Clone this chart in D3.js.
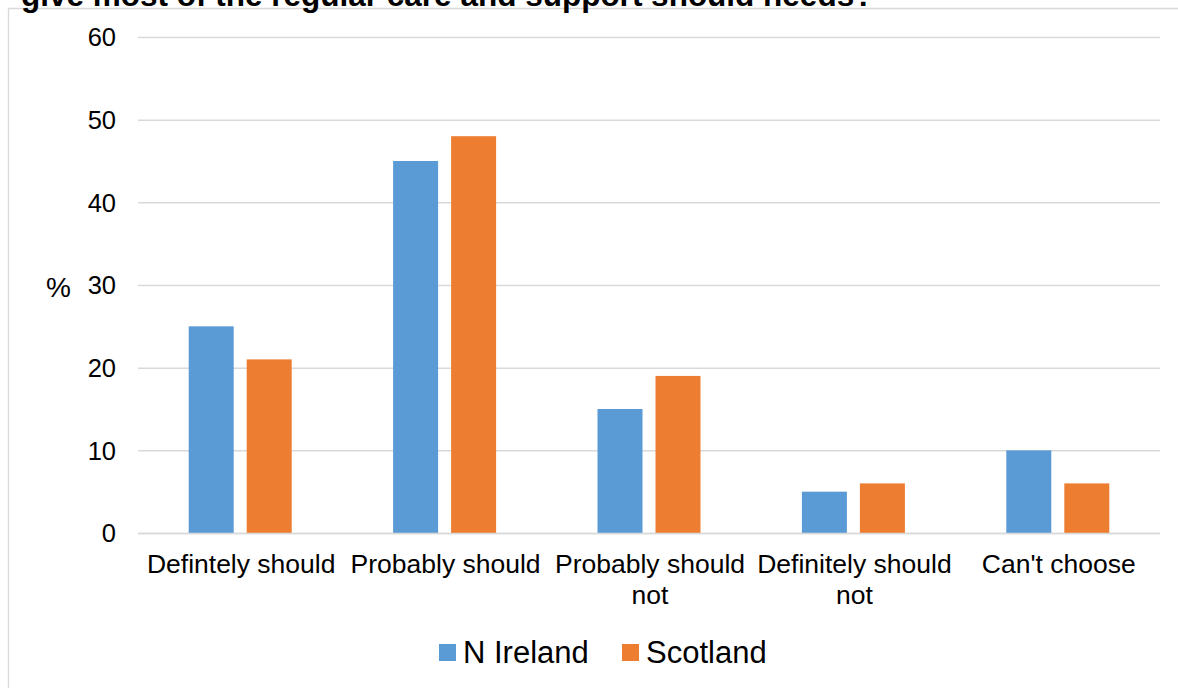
<!DOCTYPE html>
<html><head><meta charset="utf-8">
<script src="https://cdn.jsdelivr.net/npm/d3@7"></script>
<style>
html,body{margin:0;padding:0;background:#fff;}
svg{display:block;font-family:"Liberation Sans",Arial,sans-serif;}
</style></head>
<body>
<svg id="chart" width="1178" height="688"></svg>
<script>
const titleText = "give most of the regular care and support should needs?";
const categories = [["Defintely should"], ["Probably should"], ["Probably should", "not"], ["Definitely should", "not"], ["Can't choose"]];
const seriesNames = ["N Ireland", "Scotland"];
const nIreland = [25, 45, 15, 5, 10];
const scotland = [21, 48, 19, 6, 6];
const yTicks = [0, 10, 20, 30, 40, 50, 60];
const colors = ["#5B9BD5", "#ED7D31"];

const svg = d3.select("#chart");
const W = 1178, H = 688;
const m = {left: 138, right: 1160, top: 37, bottom: 533};

// outer chart border (left + top visible)
svg.append("path").attr("d", `M8.5,${H}V8.5H${W}`).attr("fill", "none").attr("stroke", "#d9d9d9").attr("stroke-width", 1.3);

// title (clipped at the top edge, as in the reference)
svg.append("text").attr("x", 21).attr("y", 5.5).attr("font-size", 31.5).attr("font-weight", "bold").attr("fill", "#000").text(titleText);

const x = d3.scaleBand().domain(d3.range(categories.length)).range([m.left, m.right]).paddingInner(0).paddingOuter(0);
const y = d3.scaleLinear().domain([0, 60]).range([m.bottom, m.top]);

const grid = svg.append("g");
grid.selectAll("line").data(yTicks).join("line")
  .attr("x1", m.left).attr("x2", m.right)
  .attr("y1", d => y(d) + 0.5).attr("y2", d => y(d) + 0.5)
  .attr("stroke", "#d9d9d9").attr("stroke-width", 1.5);

const yAxis = d3.axisLeft(y).tickValues(yTicks).tickSize(0).tickPadding(0);
const ga = svg.append("g").attr("transform", "translate(116,0)").call(yAxis);
ga.select(".domain").remove();
ga.selectAll("text").attr("font-size", 25.5).attr("fill", "#000").attr("font-family", "Liberation Sans, Arial, sans-serif").attr("dy", "0.35em");

svg.append("text").attr("x", 46).attr("y", 297).attr("font-size", 28).attr("fill", "#000").text("%");

const barW = 45, gap = 13;
const data = [nIreland, scotland];
data.forEach((vals, si) => {
  svg.append("g").selectAll("rect").data(vals).join("rect")
    .attr("x", (d, i) => x(i) + x.bandwidth() / 2 + (si === 0 ? -(gap / 2 + barW) : gap / 2))
    .attr("width", barW)
    .attr("y", d => y(d))
    .attr("height", d => y(0) - y(d))
    .attr("fill", colors[si]);
});

// baseline
svg.append("line").attr("x1", m.left).attr("x2", m.right).attr("y1", y(0) + 0.5).attr("y2", y(0) + 0.5).attr("stroke", "#d9d9d9").attr("stroke-width", 1.5);

// category labels
const cl = svg.append("g");
categories.forEach((lines, i) => {
  const t = cl.append("text").attr("text-anchor", "middle").attr("font-size", 26.5).attr("fill", "#000");
  lines.forEach((ln, j) => {
    t.append("tspan").attr("x", x(i) + x.bandwidth() / 2 + 1).attr("y", 573 + j * 31).text(ln);
  });
});

// legend
const lg = svg.append("g");
const legendItems = [{x: 439, tx: 463}, {x: 622, tx: 646}];
seriesNames.forEach((n, i) => {
  lg.append("rect").attr("x", legendItems[i].x).attr("y", 644).attr("width", 17).attr("height", 17).attr("fill", colors[i]);
  lg.append("text").attr("x", legendItems[i].tx).attr("y", 663).attr("font-size", 31).attr("fill", "#000").text(n);
});
</script>
</body></html>
